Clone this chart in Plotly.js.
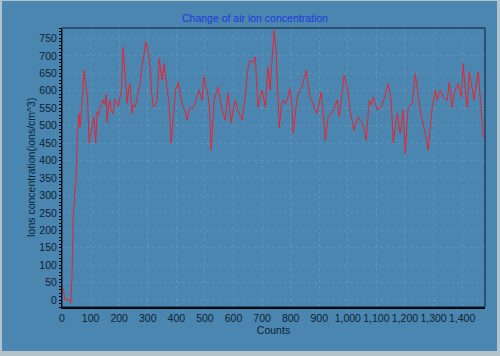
<!DOCTYPE html>
<html>
<head>
<meta charset="utf-8">
<script src="https://cdn.plot.ly/plotly-3.0.1.min.js"></script>
<style>
  html, body { margin: 0; padding: 0; background: #b3c3cc; width: 500px; height: 356px; overflow: hidden; }
  #chart { position: absolute; left: 2px; top: 1px; width: 495px; height: 350px; }
</style>
</head>
<body>
<div id="chart"></div>
<script>
const counts = [3.5, 10.5, 28, 30, 35, 38.5, 44, 49, 54, 60, 63, 69, 77, 83, 89, 95, 100, 105, 112, 118, 123, 128, 133,
  139, 144, 150, 154, 158, 163, 168, 172, 179, 185, 193, 198, 203, 208, 214, 219, 224, 228, 233, 238, 245, 250, 256, 261, 266, 273, 280, 287, 294, 301, 308, 313, 319, 326, 333, 340,
  345, 350, 357, 362, 368, 375, 382, 389, 397, 406, 413, 420, 429, 438, 443, 448, 457, 466, 473, 480, 490, 497, 502, 508, 515, 522, 532, 539, 546, 553, 560, 571, 581,
  587, 592, 599, 606, 616, 623, 630, 641, 651, 658, 667, 676, 686, 693, 700, 711, 721, 728, 735, 742, 749, 755, 760, 767, 774, 781, 788, 798,
  804, 809, 816, 823, 831, 840, 847, 854, 861, 868, 875, 882, 893, 900, 907, 914, 921, 931, 940, 949, 956, 963, 970, 978, 987, 998, 1008, 1015, 1022, 1029, 1036, 1043, 1050, 1057, 1064,
  1075, 1082, 1089, 1096, 1103, 1110, 1117, 1127, 1134, 1141, 1152, 1159, 1166, 1173, 1183, 1194, 1201, 1211, 1218, 1225, 1236, 1246, 1253, 1260, 1271, 1281, 1288, 1295,
  1306, 1313, 1318, 1323, 1334, 1341, 1348, 1355, 1365, 1370, 1376, 1386, 1397, 1404, 1411, 1418, 1425, 1435, 1442, 1449, 1456, 1463, 1470, 1474];
const ions = [35, 0, 0, -10, 65, 220, 300, 344, 478, 535, 495, 553, 659, 620, 582, 450, 480, 496, 525, 450, 540, 530, 553,
  560, 573, 560, 590, 510, 560, 573, 545, 535, 575, 563, 555, 582, 600, 725, 670, 620, 563, 605, 620, 535, 560, 553, 575, 592, 620, 668, 700, 740, 715, 668, 600, 553, 560, 573, 692,
  655, 630, 678, 640, 611, 560, 450, 516, 600, 625, 590, 563, 545, 516, 540, 553, 548, 563, 585, 602, 573, 640, 615, 602, 560, 430, 573, 590, 611, 575, 544, 516, 592,
  550, 507, 545, 573, 544, 530, 516, 582, 668, 688, 680, 697, 553, 580, 602, 553, 668, 602, 690, 774, 716, 600, 493, 555, 573, 563, 573, 607,
  560, 478, 540, 582, 600, 611, 635, 659, 620, 582, 570, 553, 535, 565, 596, 530, 458, 525, 535, 544, 560, 573, 525, 590, 645, 611, 544, 515, 487, 505, 525, 515, 507, 490, 458,
  573, 560, 582, 565, 544, 550, 553, 577, 600, 620, 573, 450, 500, 535, 478, 544, 420, 553, 558, 563, 649, 582, 545, 516, 478, 430, 500, 553,
  602, 573, 590, 602, 582, 575, 573, 625, 553, 585, 602, 620, 582, 678, 600, 553, 654, 611, 573, 620, 654, 582, 507, 467];

const titleText = "Change of air ion concentration";
const xTitle = "Counts";
const yTitle = "Ions concentration(ions/cm^3)";

const bg = "#4b86b0";
const ink = "#0d1f35";
const tickFont = { family: "Liberation Sans, Arial, sans-serif", size: 10.5, color: ink };

const data = [{
  type: "scatter",
  mode: "lines",
  x: counts,
  y: ions,
  line: { color: "#e8232e", width: 1 },
  hoverinfo: "skip"
}];

const layout = {
  width: 495,
  height: 350,
  margin: { l: 60, r: 12, t: 27, b: 44 },
  paper_bgcolor: bg,
  plot_bgcolor: bg,
  showlegend: false,
  title: {
    text: titleText,
    font: { family: "Liberation Sans, Arial, sans-serif", size: 10.5, color: "#1b3bdc" },
    x: 0.511, xanchor: "center", xref: "container",
    y: 1, yref: "container", yanchor: "top", pad: { t: 14 }
  },
  xaxis: {
    range: [0, 1480],
    dtick: 100,
    tick0: 0,
    tickformat: ",d",
    ticks: "",
    showline: true,
    linecolor: "#000000",
    linewidth: 2,
    showgrid: true,
    gridcolor: "rgba(140,175,200,0.3)",
    griddash: "dot",
    gridwidth: 1,
    zeroline: false,
    tickfont: tickFont,
    title: { text: xTitle, font: tickFont, standoff: 3 }
  },
  yaxis: {
    range: [-20, 780],
    dtick: 50,
    tick0: 0,
    ticks: "outside",
    ticklen: 2,
    tickcolor: "#000000",
    showline: true,
    linecolor: "#000000",
    linewidth: 1,
    showgrid: true,
    gridcolor: "rgba(140,175,200,0.3)",
    griddash: "dot",
    gridwidth: 1,
    zeroline: false,
    tickfont: tickFont,
    minor: { dtick: 10, ticks: "outside", ticklen: 2, tickcolor: "#000000", showgrid: false },
    title: { text: yTitle, font: tickFont, standoff: 1 }
  },
  shapes: [{
    type: "rect", xref: "paper", yref: "paper", x0: 0, x1: 1, y0: 0, y1: 1,
    line: { color: ink, width: 1 }, fillcolor: "rgba(0,0,0,0)", layer: "above"
  }]
};

Plotly.newPlot("chart", data, layout, { staticPlot: true, displayModeBar: false });
</script>
</body>
</html>
